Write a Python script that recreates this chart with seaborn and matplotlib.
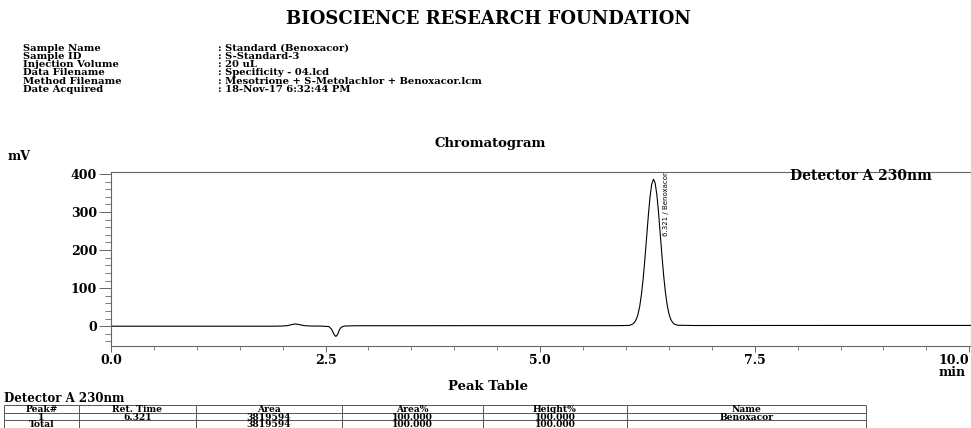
import numpy as np
import matplotlib
matplotlib.use("Agg")
import matplotlib.pyplot as plt
from matplotlib.ticker import MultipleLocator
import seaborn as sns

# header block
report_title = "BIOSCIENCE RESEARCH FOUNDATION"
info_labels = ["Sample Name", "Sample ID", "Injection Volume", "Data Filename",
               "Method Filename", "Date Acquired"]
info_values = ["Standard (Benoxacor)", "S-Standard-3", "20 uL", "Specificity - 04.lcd",
               "Mesotrione + S-Metolachlor + Benoxacor.lcm", "18-Nov-17 6:32:44 PM"]

# chromatogram trace (min, mV)
time_min = [0.00, 1.90, 2.00, 2.06, 2.10, 2.15, 2.20, 2.25, 2.32, 2.45, 2.54, 2.57,
            2.60, 2.62, 2.64, 2.66, 2.68, 2.72, 2.85, 4.50, 5.90,
            6.04, 6.08, 6.10, 6.12, 6.14, 6.16, 6.18, 6.20, 6.22, 6.24, 6.26, 6.28,
            6.30, 6.32, 6.34, 6.36, 6.38, 6.40, 6.42, 6.44, 6.46, 6.48, 6.50, 6.52,
            6.54, 6.56, 6.60, 6.80, 8.50, 10.02]
signal_mv = [0.0, 0.0, 0.5, 1.5, 4.0, 6.0, 4.0, 1.5, 0.5, 0.3, -1.0, -8.0,
             -22.0, -27.0, -22.0, -10.0, -3.0, 0.5, 1.2, 1.5, 1.5,
             2.0, 6.0, 10.0, 18.0, 31.0, 52.0, 83.0, 124.0, 175.0, 232.0, 289.0, 339.0,
             373.0, 386.0, 376.0, 345.0, 297.0, 240.0, 183.0, 131.0, 88.0, 56.0, 33.0, 19.0,
             11.0, 6.0, 2.5, 1.8, 2.0, 2.0]

peak_label = "6.321 / Benoxacor"
peak_label_x = 6.47
x_ticks = [0.0, 2.5, 5.0, 7.5, 10.0]
x_ticklabels = ["0.0", "2.5", "5.0", "7.5", "10.0\nmin"]
y_ticks = [0, 100, 200, 300, 400]

# peak table
table_cols = ["Peak#", "Ret. Time", "Area", "Area%", "Height%", "Name"]
table_row1 = ["1", "6.321", "3819594", "100.000", "100.000", "Benoxacor"]
table_total = ["Total", "", "3819594", "100.000", "100.000", ""]

sns.set_theme(style="ticks")
plt.rcParams["font.family"] = ["DejaVu Serif"]
plt.rcParams["font.weight"] = "bold"
plt.rcParams["text.color"] = "black"
plt.rcParams["xtick.color"] = "black"
plt.rcParams["ytick.color"] = "black"

fig = plt.figure(figsize=(9.71, 4.28), dpi=100)

# page overlay in pixel coordinates for the report text and the table
page = fig.add_axes([0, 0, 1, 1])
page.set_xlim(0, 971)
page.set_ylim(428, 0)
page.axis("off")

page.text(488, 18.5, report_title, ha="center", va="center", fontsize=13, fontweight="bold")
for i, (lab, val) in enumerate(zip(info_labels, info_values)):
    yy = 48 + 8.3 * i
    page.text(23, yy, lab, ha="left", va="center", fontsize=7.2, fontweight="bold")
    page.text(218, yy, ": " + val, ha="left", va="center", fontsize=7.2, fontweight="bold")

page.text(490, 143, "Chromatogram", ha="center", va="center", fontsize=9.5, fontweight="bold")
page.text(8, 157, "mV", ha="left", va="center", fontsize=9, fontweight="bold")
page.text(488, 386, "Peak Table", ha="center", va="center", fontsize=9.5, fontweight="bold")
page.text(4, 398, "Detector A 230nm", ha="left", va="center", fontsize=8.5, fontweight="bold")

col_edges = [4, 79, 196, 342, 483, 627, 866]
row_lines = [405, 413, 420]
page.hlines(row_lines, col_edges[0], col_edges[-1], color="#555555", lw=0.7)
page.vlines(col_edges, 405, 428, color="#555555", lw=0.7)
for j in range(len(table_cols)):
    cx = (col_edges[j] + col_edges[j + 1]) / 2
    page.text(cx, 409.3, table_cols[j], ha="center", va="center", fontsize=6.6, fontweight="bold")
    page.text(cx, 417, table_row1[j], ha="center", va="center", fontsize=6.6, fontweight="bold")
    page.text(cx, 424.6, table_total[j], ha="center", va="center", fontsize=6.6, fontweight="bold")

# chromatogram
ax = fig.add_axes([111 / 971, 1 - 346 / 428, 860 / 971, 174 / 428])
sns.lineplot(x=time_min, y=signal_mv, ax=ax, color="black", lw=0.8)
ax.set_xlim(0, 10.02)
ax.set_ylim(-52, 405)
ax.set_xlabel("")
ax.set_ylabel("")
for s in ax.spines.values():
    s.set_color("#666666")
    s.set_linewidth(0.8)

ax.set_xticks(x_ticks)
ax.set_xticklabels(x_ticklabels, fontsize=9, fontweight="bold", linespacing=0.85)
ax.xaxis.set_minor_locator(MultipleLocator(0.5))
ax.set_yticks(y_ticks)
ax.set_yticklabels([str(v) for v in y_ticks], fontsize=9, fontweight="bold")
ax.yaxis.set_minor_locator(MultipleLocator(20))
ax.tick_params(axis="y", which="major", length=9, width=0.7, color="#666666", pad=1)
ax.tick_params(axis="y", which="minor", length=4, width=0.6, color="#666666")
ax.tick_params(axis="x", which="major", length=4, width=0.7, color="#666666", pad=2)
ax.tick_params(axis="x", which="minor", length=3, width=0.6, color="#666666")
last = ax.get_xticklabels()[-1]
last.set_horizontalalignment("right")
last.set_multialignment("left")

ax.text(peak_label_x, 405, peak_label, rotation=90, ha="center", va="top", fontsize=5,
        fontweight="normal", family=["Liberation Sans Narrow", "DejaVu Sans"])
ax.text(790, 176, "Detector A 230nm", transform=page.transData, ha="left", va="center",
        fontsize=10, fontweight="bold", clip_on=False)

fig.savefig("out.png", dpi=100)
